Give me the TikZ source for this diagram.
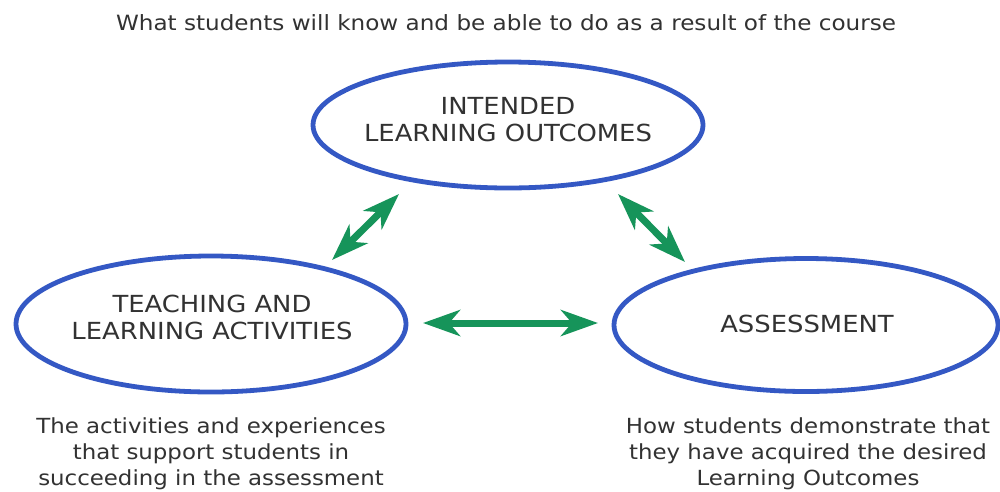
\documentclass[tikz,border=0pt]{standalone}
\usepackage{fontspec}
\setmainfont{DejaVu Sans}[FakeStretch=1.1]
\usetikzlibrary{shapes.geometric,arrows.meta}
\definecolor{ringblue}{RGB}{52,88,196}
\definecolor{arrowgreen}{RGB}{22,148,90}
\definecolor{txtgray}{RGB}{50,50,50}
\tikzset{
  ring/.style={ellipse,draw=ringblue,line width=4.8pt,inner sep=0pt},
  ringtext/.style={text=txtgray,align=center,inner sep=0pt,font=\fontsize{23.5}{27}\selectfont},
  note/.style={text=txtgray,align=center,font=\fontsize{20.8}{26}\selectfont},
  link/.style={draw=arrowgreen,line width=7pt,
    {Stealth[length=37pt,width=26pt,inset=11pt]}-{Stealth[length=37pt,width=26pt,inset=11pt]}}
}
\begin{document}
\begin{tikzpicture}[x=1pt,y=-1pt]
\useasboundingbox[fill=white] (0,0) rectangle (1000,491);
\node[text=txtgray,anchor=base,font=\fontsize{21}{24}\selectfont] (title) at (506,30)
  {What students will know and be able to do as a result of the course};
\node[ring,minimum width=390pt,minimum height=126pt] (ilo) at (508,125) {};
\node[ringtext] (ilotext) at (508,120) {INTENDED\\LEARNING OUTCOMES};
\node[ring,minimum width=390pt,minimum height=136pt] (tla) at (211,324) {};
\node[ringtext] (tlatext) at (212,317.5) {TEACHING AND\\LEARNING ACTIVITIES};
\node[ring,minimum width=384pt,minimum height=133pt] (asm) at (806,325) {};
\node[ringtext] (asmtext) at (807,324) {ASSESSMENT};
\node[note] (tlanote) at (211,454)
  {The activities and experiences\\that support students in\\succeeding in the assessment};
\node[note] (asmnote) at (808,454)
  {How students demonstrate that\\they have acquired the desired\\Learning Outcomes};
\coordinate (a1) at (332,260);
\coordinate (a2) at (399,194);
\coordinate (b1) at (618,194);
\coordinate (b2) at (685,262);
\coordinate (c1) at (423,323);
\coordinate (c2) at (598,323);
\draw[link] (a1) -- (a2);
\draw[link] (b1) -- (b2);
\draw[link] (c1) -- (c2);
\end{tikzpicture}
\end{document}
